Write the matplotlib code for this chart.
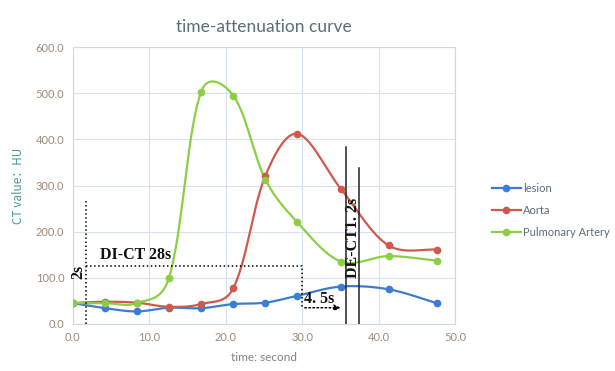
import numpy as np
import matplotlib.pyplot as plt

# sample times (s) and CT values (HU)
t = [0.0, 4.2, 8.4, 12.6, 16.8, 21.0, 25.2, 29.4, 35.1, 41.3, 47.6]
lesion = [45, 34, 27, 35, 34, 43, 46, 61, 81, 75, 45]
aorta = [45, 48, 46, 37, 43, 77, 321, 412, 292, 170, 161]
pulmonary = [45, 45, 45, 100, 503, 495, 313, 220, 135, 147, 137]

series_names = ['lesion', 'Aorta', 'Pulmonary Artery']
series_colors = ['#3c7dd0', '#cf5a4c', '#8ccf45']

xticks = [0, 10, 20, 30, 40, 50]
yticks = [0, 100, 200, 300, 400, 500, 600]

# px per data unit, used so the smoothing behaves like it does on screen
SX, SY = 7.65, 0.4615


def smooth(x, y, n=30):
    # smoothed line like a spreadsheet chart: cubic Bezier through the points
    x = np.asarray(x, float)
    y = np.asarray(y, float)
    pts = np.column_stack([x, y])
    scale = np.array([SX, SY])
    m = len(pts)
    xs, ys = [], []
    for i in range(m - 1):
        p0 = pts[max(i - 1, 0)]
        p1 = pts[i]
        p2 = pts[i + 1]
        p3 = pts[min(i + 2, m - 1)]
        d01 = np.linalg.norm((p1 - p0) * scale)
        d12 = np.linalg.norm((p2 - p1) * scale)
        d23 = np.linalg.norm((p3 - p2) * scale)
        k1 = 0.5 / 6 + 0.5 * d12 / max(d01 + d12, 1e-9) / 3
        k2 = 0.5 / 6 + 0.5 * d12 / max(d12 + d23, 1e-9) / 3
        c1 = p1 + (p2 - p0) * k1
        c2 = p2 - (p3 - p1) * k2
        s = np.linspace(0, 1, n)[:, None]
        b = (1 - s) ** 3 * p1 + 3 * (1 - s) ** 2 * s * c1 + 3 * (1 - s) * s ** 2 * c2 + s ** 3 * p2
        xs.extend(b[:, 0])
        ys.extend(b[:, 1])
    return xs, ys


plt.rcParams['font.family'] = ['Lato', 'DejaVu Sans']

fig = plt.figure(figsize=(6.15, 3.71), dpi=100)
ax = fig.add_axes([0.118, 0.127, 0.622, 0.746])

for vals, name, col in zip([lesion, aorta, pulmonary], series_names, series_colors):
    sx, sy = smooth(t, vals)
    ax.plot(sx, sy, color=col, lw=1.6, zorder=3)
    ax.plot(t, vals, 'o', color=col, ms=4.5, zorder=4)
    ax.plot([], [], '-o', color=col, lw=1.6, ms=4.5, label=name)

ax.set_xlim(0, 50)
ax.set_ylim(0, 600)
ax.set_xticks(xticks)
ax.set_yticks(yticks)
ax.set_xticklabels([f'{v:.1f}' for v in xticks])
ax.set_yticklabels([f'{v:.1f}' for v in yticks])
ax.tick_params(length=0, labelsize=8, labelcolor='#9c8a7a', pad=6)
ax.grid(color='#d8e2ec', lw=0.8)
ax.set_axisbelow(True)
for sp in ax.spines.values():
    sp.set_color('#d0dae4')
    sp.set_linewidth(0.8)

ax.set_title('time-attenuation curve', fontsize=12.5, color='#5a6e78', pad=11)
ax.set_ylabel('CT value：HU', fontsize=8.5, color='#4a9a9a', labelpad=8,
              family=['Noto Sans CJK SC', 'DejaVu Sans'])
ax.set_xlabel('time: second', fontsize=8.5, color='#8c7f74', labelpad=6)

# annotations
serif = dict(family='Liberation Serif', fontweight='bold', color='#111111')
ax.plot([1.8, 1.8], [0, 269], ':', color='black', lw=1.1, zorder=5)
ax.plot([1.8, 30.0, 30.0], [126, 126, 36], ':', color='black', lw=1.1, zorder=5)
ax.annotate('', xy=(35.4, 35), xytext=(30.0, 35),
            arrowprops=dict(arrowstyle='-|>', linestyle=':', color='black', lw=1.1,
                            mutation_scale=9), zorder=5)
ax.text(0.8, 112, '2s', rotation=90, ha='center', va='center', fontsize=11.5, **serif)
ax.text(3.6, 131, 'DI-CT 28s', ha='left', va='bottom', fontsize=11.5, **serif)
ax.text(30.3, 54, '4. 5s', ha='left', va='center', fontsize=11.5, **serif)
ax.plot([35.7, 35.7], [0, 384], '-', color='#222222', lw=1.1, zorder=5)
ax.plot([37.5, 37.5], [0, 337], '-', color='#222222', lw=1.1, zorder=5)
ax.text(36.6, 187, 'DE-CT1. 2s', rotation=90, ha='center', va='center', fontsize=11.5, **serif)

leg = ax.legend(loc='center left', bbox_to_anchor=(1.07, 0.41), frameon=False,
                fontsize=8, handlelength=2.6, labelspacing=1.0, handletextpad=0.2)
for txt in leg.get_texts():
    txt.set_color('#5a6e78')

fig.savefig('out.png', dpi=100)
